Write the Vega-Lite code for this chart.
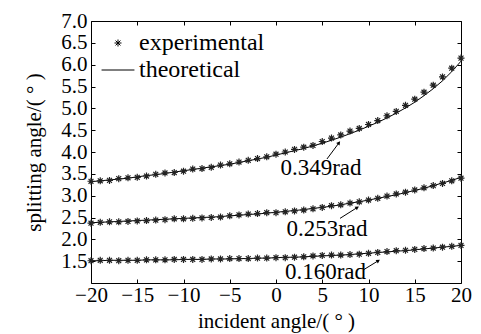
{
  "$schema": "https://vega.github.io/schema/vega-lite/v6.json",
  "width": 370,
  "height": 262,
  "autosize": "none",
  "padding": {"left": 91, "top": 21, "right": 20, "bottom": 51},
  "background": "white",
  "config": {
    "font": "Liberation Serif, serif",
    "view": {"stroke": "black", "strokeWidth": 1},
    "text": {"font": "Liberation Serif, serif"},
    "legend": {"labelFont": "Liberation Serif, serif", "titleFont": "Liberation Serif, serif"},
    "axis": {
      "labelFont": "Liberation Serif, serif",
      "titleFont": "Liberation Serif, serif",
      "labelFontSize": 21,
      "titleFontSize": 21,
      "labelColor": "black",
      "titleColor": "black",
      "titleFontWeight": "normal",
      "tickColor": "black",
      "domainColor": "black",
      "tickSize": -4,
      "grid": false,
      "labelFlush": false,
      "labelOverlap": false
    }
  },
  "datasets": {
    "curves": [
      {"arc": "0.349rad", "angle": -20, "theory": 3.32, "measured": 3.33},
      {"arc": "0.349rad", "angle": -19, "theory": 3.34, "measured": 3.34},
      {"arc": "0.349rad", "angle": -18, "theory": 3.36, "measured": 3.35},
      {"arc": "0.349rad", "angle": -17, "theory": 3.38, "measured": 3.39},
      {"arc": "0.349rad", "angle": -16, "theory": 3.40, "measured": 3.41},
      {"arc": "0.349rad", "angle": -15, "theory": 3.43, "measured": 3.42},
      {"arc": "0.349rad", "angle": -14, "theory": 3.46, "measured": 3.45},
      {"arc": "0.349rad", "angle": -13, "theory": 3.48, "measured": 3.49},
      {"arc": "0.349rad", "angle": -12, "theory": 3.51, "measured": 3.52},
      {"arc": "0.349rad", "angle": -11, "theory": 3.54, "measured": 3.53},
      {"arc": "0.349rad", "angle": -10, "theory": 3.57, "measured": 3.56},
      {"arc": "0.349rad", "angle": -9, "theory": 3.60, "measured": 3.61},
      {"arc": "0.349rad", "angle": -8, "theory": 3.63, "measured": 3.62},
      {"arc": "0.349rad", "angle": -7, "theory": 3.66, "measured": 3.65},
      {"arc": "0.349rad", "angle": -6, "theory": 3.69, "measured": 3.70},
      {"arc": "0.349rad", "angle": -5, "theory": 3.72, "measured": 3.73},
      {"arc": "0.349rad", "angle": -4, "theory": 3.76, "measured": 3.77},
      {"arc": "0.349rad", "angle": -3, "theory": 3.80, "measured": 3.81},
      {"arc": "0.349rad", "angle": -2, "theory": 3.84, "measured": 3.85},
      {"arc": "0.349rad", "angle": -1, "theory": 3.88, "measured": 3.89},
      {"arc": "0.349rad", "angle": 0, "theory": 3.93, "measured": 3.95},
      {"arc": "0.349rad", "angle": 1, "theory": 3.98, "measured": 4.00},
      {"arc": "0.349rad", "angle": 2, "theory": 4.03, "measured": 4.06},
      {"arc": "0.349rad", "angle": 3, "theory": 4.08, "measured": 4.11},
      {"arc": "0.349rad", "angle": 4, "theory": 4.14, "measured": 4.15},
      {"arc": "0.349rad", "angle": 5, "theory": 4.20, "measured": 4.24},
      {"arc": "0.349rad", "angle": 6, "theory": 4.27, "measured": 4.32},
      {"arc": "0.349rad", "angle": 7, "theory": 4.34, "measured": 4.39},
      {"arc": "0.349rad", "angle": 8, "theory": 4.42, "measured": 4.48},
      {"arc": "0.349rad", "angle": 9, "theory": 4.50, "measured": 4.54},
      {"arc": "0.349rad", "angle": 10, "theory": 4.59, "measured": 4.63},
      {"arc": "0.349rad", "angle": 11, "theory": 4.68, "measured": 4.72},
      {"arc": "0.349rad", "angle": 12, "theory": 4.78, "measured": 4.83},
      {"arc": "0.349rad", "angle": 13, "theory": 4.89, "measured": 4.93},
      {"arc": "0.349rad", "angle": 14, "theory": 5.01, "measured": 5.07},
      {"arc": "0.349rad", "angle": 15, "theory": 5.14, "measured": 5.21},
      {"arc": "0.349rad", "angle": 16, "theory": 5.29, "measured": 5.37},
      {"arc": "0.349rad", "angle": 17, "theory": 5.45, "measured": 5.53},
      {"arc": "0.349rad", "angle": 18, "theory": 5.63, "measured": 5.72},
      {"arc": "0.349rad", "angle": 19, "theory": 5.84, "measured": 5.92},
      {"arc": "0.349rad", "angle": 20, "theory": 6.08, "measured": 6.15},
      {"arc": "0.253rad", "angle": -20, "theory": 2.38, "measured": 2.37},
      {"arc": "0.253rad", "angle": -19, "theory": 2.39, "measured": 2.39},
      {"arc": "0.253rad", "angle": -18, "theory": 2.40, "measured": 2.40},
      {"arc": "0.253rad", "angle": -17, "theory": 2.41, "measured": 2.40},
      {"arc": "0.253rad", "angle": -16, "theory": 2.42, "measured": 2.41},
      {"arc": "0.253rad", "angle": -15, "theory": 2.43, "measured": 2.42},
      {"arc": "0.253rad", "angle": -14, "theory": 2.44, "measured": 2.43},
      {"arc": "0.253rad", "angle": -13, "theory": 2.45, "measured": 2.44},
      {"arc": "0.253rad", "angle": -12, "theory": 2.46, "measured": 2.45},
      {"arc": "0.253rad", "angle": -11, "theory": 2.47, "measured": 2.47},
      {"arc": "0.253rad", "angle": -10, "theory": 2.48, "measured": 2.47},
      {"arc": "0.253rad", "angle": -9, "theory": 2.49, "measured": 2.48},
      {"arc": "0.253rad", "angle": -8, "theory": 2.50, "measured": 2.49},
      {"arc": "0.253rad", "angle": -7, "theory": 2.51, "measured": 2.50},
      {"arc": "0.253rad", "angle": -6, "theory": 2.52, "measured": 2.51},
      {"arc": "0.253rad", "angle": -5, "theory": 2.54, "measured": 2.54},
      {"arc": "0.253rad", "angle": -4, "theory": 2.55, "measured": 2.56},
      {"arc": "0.253rad", "angle": -3, "theory": 2.57, "measured": 2.58},
      {"arc": "0.253rad", "angle": -2, "theory": 2.58, "measured": 2.59},
      {"arc": "0.253rad", "angle": -1, "theory": 2.60, "measured": 2.61},
      {"arc": "0.253rad", "angle": 0, "theory": 2.62, "measured": 2.61},
      {"arc": "0.253rad", "angle": 1, "theory": 2.64, "measured": 2.63},
      {"arc": "0.253rad", "angle": 2, "theory": 2.66, "measured": 2.65},
      {"arc": "0.253rad", "angle": 3, "theory": 2.68, "measured": 2.67},
      {"arc": "0.253rad", "angle": 4, "theory": 2.71, "measured": 2.70},
      {"arc": "0.253rad", "angle": 5, "theory": 2.73, "measured": 2.73},
      {"arc": "0.253rad", "angle": 6, "theory": 2.76, "measured": 2.77},
      {"arc": "0.253rad", "angle": 7, "theory": 2.79, "measured": 2.79},
      {"arc": "0.253rad", "angle": 8, "theory": 2.83, "measured": 2.83},
      {"arc": "0.253rad", "angle": 9, "theory": 2.86, "measured": 2.86},
      {"arc": "0.253rad", "angle": 10, "theory": 2.90, "measured": 2.90},
      {"arc": "0.253rad", "angle": 11, "theory": 2.94, "measured": 2.94},
      {"arc": "0.253rad", "angle": 12, "theory": 2.98, "measured": 2.99},
      {"arc": "0.253rad", "angle": 13, "theory": 3.02, "measured": 3.04},
      {"arc": "0.253rad", "angle": 14, "theory": 3.07, "measured": 3.08},
      {"arc": "0.253rad", "angle": 15, "theory": 3.12, "measured": 3.13},
      {"arc": "0.253rad", "angle": 16, "theory": 3.17, "measured": 3.18},
      {"arc": "0.253rad", "angle": 17, "theory": 3.23, "measured": 3.23},
      {"arc": "0.253rad", "angle": 18, "theory": 3.29, "measured": 3.28},
      {"arc": "0.253rad", "angle": 19, "theory": 3.35, "measured": 3.34},
      {"arc": "0.253rad", "angle": 20, "theory": 3.42, "measured": 3.40},
      {"arc": "0.160rad", "angle": -20, "theory": 1.51, "measured": 1.51},
      {"arc": "0.160rad", "angle": -19, "theory": 1.51, "measured": 1.52},
      {"arc": "0.160rad", "angle": -18, "theory": 1.52, "measured": 1.52},
      {"arc": "0.160rad", "angle": -17, "theory": 1.52, "measured": 1.51},
      {"arc": "0.160rad", "angle": -16, "theory": 1.52, "measured": 1.52},
      {"arc": "0.160rad", "angle": -15, "theory": 1.52, "measured": 1.52},
      {"arc": "0.160rad", "angle": -14, "theory": 1.53, "measured": 1.53},
      {"arc": "0.160rad", "angle": -13, "theory": 1.53, "measured": 1.53},
      {"arc": "0.160rad", "angle": -12, "theory": 1.53, "measured": 1.53},
      {"arc": "0.160rad", "angle": -11, "theory": 1.53, "measured": 1.54},
      {"arc": "0.160rad", "angle": -10, "theory": 1.54, "measured": 1.54},
      {"arc": "0.160rad", "angle": -9, "theory": 1.54, "measured": 1.54},
      {"arc": "0.160rad", "angle": -8, "theory": 1.54, "measured": 1.54},
      {"arc": "0.160rad", "angle": -7, "theory": 1.55, "measured": 1.55},
      {"arc": "0.160rad", "angle": -6, "theory": 1.55, "measured": 1.55},
      {"arc": "0.160rad", "angle": -5, "theory": 1.55, "measured": 1.56},
      {"arc": "0.160rad", "angle": -4, "theory": 1.56, "measured": 1.56},
      {"arc": "0.160rad", "angle": -3, "theory": 1.56, "measured": 1.56},
      {"arc": "0.160rad", "angle": -2, "theory": 1.57, "measured": 1.57},
      {"arc": "0.160rad", "angle": -1, "theory": 1.57, "measured": 1.57},
      {"arc": "0.160rad", "angle": 0, "theory": 1.58, "measured": 1.58},
      {"arc": "0.160rad", "angle": 1, "theory": 1.59, "measured": 1.58},
      {"arc": "0.160rad", "angle": 2, "theory": 1.59, "measured": 1.59},
      {"arc": "0.160rad", "angle": 3, "theory": 1.60, "measured": 1.60},
      {"arc": "0.160rad", "angle": 4, "theory": 1.61, "measured": 1.62},
      {"arc": "0.160rad", "angle": 5, "theory": 1.62, "measured": 1.63},
      {"arc": "0.160rad", "angle": 6, "theory": 1.63, "measured": 1.64},
      {"arc": "0.160rad", "angle": 7, "theory": 1.64, "measured": 1.64},
      {"arc": "0.160rad", "angle": 8, "theory": 1.65, "measured": 1.65},
      {"arc": "0.160rad", "angle": 9, "theory": 1.67, "measured": 1.66},
      {"arc": "0.160rad", "angle": 10, "theory": 1.68, "measured": 1.68},
      {"arc": "0.160rad", "angle": 11, "theory": 1.70, "measured": 1.70},
      {"arc": "0.160rad", "angle": 12, "theory": 1.71, "measured": 1.72},
      {"arc": "0.160rad", "angle": 13, "theory": 1.73, "measured": 1.74},
      {"arc": "0.160rad", "angle": 14, "theory": 1.74, "measured": 1.75},
      {"arc": "0.160rad", "angle": 15, "theory": 1.76, "measured": 1.77},
      {"arc": "0.160rad", "angle": 16, "theory": 1.78, "measured": 1.79},
      {"arc": "0.160rad", "angle": 17, "theory": 1.80, "measured": 1.80},
      {"arc": "0.160rad", "angle": 18, "theory": 1.82, "measured": 1.82},
      {"arc": "0.160rad", "angle": 19, "theory": 1.84, "measured": 1.84},
      {"arc": "0.160rad", "angle": 20, "theory": 1.86, "measured": 1.86}
    ],
    "labels": [
      {"arc": "0.349rad", "x": 4.86, "y": 3.47, "x0": 5.51, "y0": 3.84, "x1": 6.81, "y1": 4.21},
      {"arc": "0.253rad", "x": 5.51, "y": 2.08, "x0": 6.92, "y0": 2.48, "x1": 8.79, "y1": 2.73},
      {"arc": "0.160rad", "x": 5.35, "y": 1.09, "x0": 9.44, "y0": 1.30, "x1": 11.06, "y1": 1.51}
    ]
  },
  "resolve": {"axis": {"x": "independent", "y": "independent"}},
  "layer": [
    {
      "data": {"name": "curves"},
      "mark": {"type": "line", "color": "black", "strokeWidth": 1},
      "encoding": {
        "x": {
          "field": "angle", "type": "quantitative",
          "scale": {"domain": [-20, 20], "nice": false, "zero": false},
          "axis": {
            "orient": "bottom",
            "values": [-20, -15, -10, -5, 0, 5, 10, 15, 20],
            "title": "incident angle/( ° )",
            "labelPadding": 5,
            "titleY": 44,
            "titleBaseline": "alphabetic",
            "domain": false
          }
        },
        "y": {
          "field": "theory", "type": "quantitative",
          "scale": {"domain": [1, 7], "nice": false, "zero": false},
          "axis": {
            "orient": "left",
            "values": [1.5, 2, 2.5, 3, 3.5, 4, 4.5, 5, 5.5, 6, 6.5, 7],
            "format": ".1f",
            "title": "splitting angle/( ° )",
            "labelPadding": 8,
            "titleX": -51,
            "titleBaseline": "alphabetic",
            "domain": false
          }
        },
        "detail": {"field": "arc"}
      }
    },
    {
      "data": {"name": "curves"},
      "mark": {"type": "point", "filled": false, "color": "#222222", "strokeWidth": 1.2, "size": 49, "opacity": 1},
      "encoding": {
        "x": {
          "field": "angle", "type": "quantitative",
          "axis": {"orient": "top", "values": [-20, -15, -10, -5, 0, 5, 10, 15, 20], "labels": false, "title": null, "domain": false}
        },
        "y": {
          "field": "measured", "type": "quantitative",
          "axis": {"orient": "right", "values": [1.5, 2, 2.5, 3, 3.5, 4, 4.5, 5, 5.5, 6, 6.5, 7], "labels": false, "title": null, "domain": false}
        },
        "shape": {
          "datum": "experimental", "type": "nominal",
          "scale": {
            "domain": ["experimental", "theoretical"],
            "range": ["M-1,0L1,0M0,-1L0,1M-0.7,-0.7L0.7,0.7M-0.7,0.7L0.7,-0.7", "M-4.7,0L4.7,0"]
          },
          "legend": {
            "title": null,
            "orient": "top-left",
            "offset": 10,
            "padding": 0,
            "symbolOffset": 5,
            "labelOffset": 9,
            "labelFontSize": 24,
            "labelColor": "black",
            "rowPadding": 3,
            "symbolStrokeColor": "black",
            "symbolStrokeWidth": 1,
            "symbolSize": 49
          }
        }
      }
    },
    {
      "data": {"name": "labels"},
      "mark": {"type": "text", "fontSize": 23, "color": "black", "align": "center", "baseline": "alphabetic"},
      "encoding": {
        "x": {"field": "x", "type": "quantitative", "axis": null},
        "y": {"field": "y", "type": "quantitative", "axis": null},
        "text": {"field": "arc"}
      }
    },
    {
      "data": {"name": "labels"},
      "mark": {"type": "rule", "color": "black", "strokeWidth": 1},
      "encoding": {
        "x": {"field": "x0", "type": "quantitative", "axis": null},
        "y": {"field": "y0", "type": "quantitative", "axis": null},
        "x2": {"field": "x1"},
        "y2": {"field": "y1"}
      }
    },
    {
      "data": {"name": "labels"},
      "transform": [{"filter": "datum.arc === '0.349rad'"}],
      "mark": {"type": "point", "shape": "triangle-up", "filled": true, "color": "black", "size": 18, "angle": 37, "opacity": 1},
      "encoding": {
        "x": {"field": "x1", "type": "quantitative", "axis": null},
        "y": {"field": "y1", "type": "quantitative", "axis": null}
      }
    },
    {
      "data": {"name": "labels"},
      "transform": [{"filter": "datum.arc !== '0.349rad'"}],
      "mark": {"type": "point", "shape": "triangle-up", "filled": true, "color": "black", "size": 18, "angle": 58, "opacity": 1},
      "encoding": {
        "x": {"field": "x1", "type": "quantitative", "axis": null},
        "y": {"field": "y1", "type": "quantitative", "axis": null}
      }
    }
  ]
}
